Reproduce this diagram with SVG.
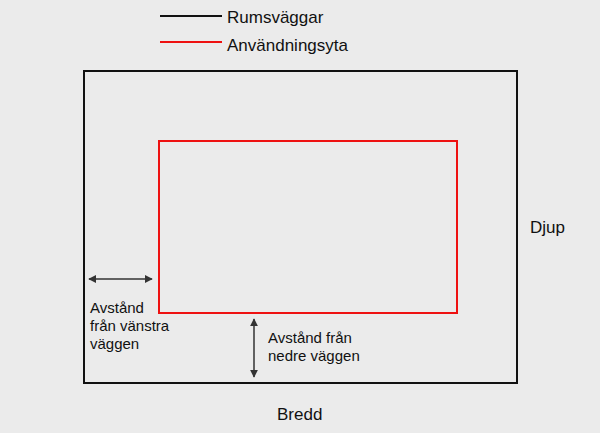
<svg xmlns="http://www.w3.org/2000/svg" width="600" height="433" viewBox="0 0 600 433">
<style>
text{font-family:"Liberation Sans",Arial,sans-serif;font-size:15px;fill:#111}
.big{font-size:17px}
.arr{stroke:#333;stroke-width:1.5;fill:none;marker-start:url(#ah);marker-end:url(#ah)}
</style>
<defs><marker id="ah" viewBox="0 0 10 10" refX="9" refY="5" markerWidth="8" markerHeight="8" orient="auto-start-reverse" markerUnits="userSpaceOnUse"><path d="M0,0L10,5L0,10z" fill="#333"/></marker></defs>
<rect width="600" height="433" fill="#ebebeb"/>
<g id="legend">
<line x1="160" y1="16" x2="222" y2="16" stroke="#111" stroke-width="2"/>
<text class="big" x="227" y="23">Rumsväggar</text>
<line x1="160" y1="42" x2="222" y2="42" stroke="#e11" stroke-width="2"/>
<text class="big" x="227" y="51">Användningsyta</text>
</g>
<g id="room"><rect x="84" y="71" width="433" height="312" fill="none" stroke="#111" stroke-width="2"/></g>
<g id="area"><rect x="159" y="141" width="298" height="172" fill="none" stroke="#e11" stroke-width="2"/></g>
<g id="connectors">
<line class="arr" x1="89" y1="279" x2="152" y2="279"/>
<line class="arr" x1="254" y1="319" x2="254" y2="377"/>
</g>
<g id="labels">
<text x="90" y="313">Avstånd</text>
<text x="90" y="331">från vänstra</text>
<text x="90" y="349">väggen</text>
<text x="268" y="343">Avstånd från</text>
<text x="268" y="361">nedre väggen</text>
<text class="big" x="530" y="233">Djup</text>
<text class="big" x="277" y="420">Bredd</text>
</g>
</svg>
